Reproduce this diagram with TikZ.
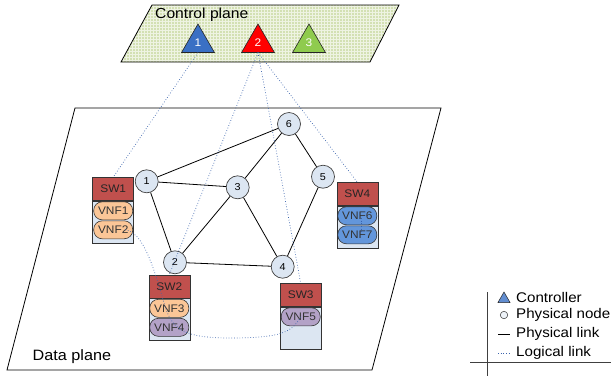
\documentclass[tikz,border=0pt]{standalone}
\usepackage{fontspec}
\setmainfont[FakeStretch=1.08]{Liberation Sans}
\usetikzlibrary{shapes.geometric}

\definecolor{cpfill}{HTML}{D3E0B3}
\definecolor{cpgrid}{HTML}{EEF3E2}
\definecolor{nodefill}{HTML}{DCE6F2}
\definecolor{swred}{HTML}{C0504D}
\definecolor{vnfcont}{HTML}{DCE6F2}
\definecolor{vnforange}{HTML}{FBC697}
\definecolor{vnfpurple}{HTML}{B3A2C7}
\definecolor{vnfblue}{HTML}{6396DB}
\definecolor{loglink}{HTML}{3B64AD}
\definecolor{ctrlblue}{HTML}{3A70C4}
\definecolor{ctrlred}{HTML}{FF0000}
\definecolor{ctrlgreen}{HTML}{8FCB4E}

\tikzset{
  plane/.style={draw=black, line width=0.8pt},
  ctrl/.style={regular polygon, regular polygon sides=3, minimum size=38pt,
    inner sep=0pt, outer sep=0pt, draw=black!85, line width=0.6pt,
    text=white, font=\fontsize{11}{11}\selectfont},
  pnode/.style={circle, draw=black!75, fill=nodefill, minimum size=23pt,
    inner sep=0pt, line width=0.7pt, font=\fontsize{10}{10}\selectfont},
  swbox/.style={draw=black!80, fill=swred, minimum width=41pt, minimum height=23pt,
    inner sep=0pt, line width=0.6pt, text=black!85, font=\fontsize{11}{11}\selectfont},
  vnfbox/.style={draw=black!80, fill=vnfcont, minimum width=41pt, minimum height=42pt,
    inner sep=0pt, line width=0.6pt},
  vnf/.style={draw=black!80, rounded corners=8.5pt, minimum width=39pt, minimum height=18pt,
    inner sep=0pt, line width=0.6pt, text=black!80, font=\fontsize{11}{11}\selectfont},
  plink/.style={draw=black, line width=0.8pt},
  llink/.style={draw=loglink, line width=0.7pt, dotted},
  legtext/.style={anchor=west, inner sep=0pt, font=\fontsize{14}{14}\selectfont},
  title/.style={anchor=west, inner sep=0pt, font=\fontsize{14.5}{14.5}\selectfont}
}

\begin{document}
\begin{tikzpicture}[x=1pt, y=-1pt]
\useasboundingbox (0,0) rectangle (611,376);

% control plane with its fine grid
\fill[cpfill] (152,5) -- (399,5) -- (370,62) -- (121,62) -- cycle;
\begin{scope}
  \clip (152,5) -- (399,5) -- (370,62) -- (121,62) -- cycle;
  \draw[cpgrid, line width=0.6pt, step=3pt] (118,2) grid (402,65);
\end{scope}
\draw[plane] (152,5) -- (399,5) -- (370,62) -- (121,62) -- cycle;
\node[title] (cptitle) at (155,15) {Control plane};

% controllers
\node[ctrl, fill=ctrlblue] (t1) at (198,43) {1};
\node[ctrl, fill=ctrlred] (t2) at (258,43) {2};
\node[ctrl, fill=ctrlgreen] (t3) at (309,43) {3};

% data plane
\draw[plane] (75,108) -- (441,108) -- (372,370) -- (7,370) -- cycle;
\node[title, font=\fontsize{15}{15}\selectfont] (dptitle) at (32.5,357) {Data plane};

% physical nodes
\node[pnode] (n1) at (146.7,181.3) {1};
\node[pnode] (n2) at (175,262.3) {2};
\node[pnode] (n3) at (237.7,187.3) {3};
\node[pnode] (n4) at (282.7,266.7) {4};
\node[pnode] (n5) at (323,176.7) {5};
\node[pnode] (n6) at (289,124) {6};

% physical links
\draw[plink] (n1) -- (n6);
\draw[plink] (n1) -- (n3);
\draw[plink] (n1) -- (n2);
\draw[plink] (n3) -- (n6);
\draw[plink] (n3) -- (n2);
\draw[plink] (n3) -- (n4);
\draw[plink] (n6) -- (n5);
\draw[plink] (n5) -- (n4);
\draw[plink] (n2) -- (n4);

% switches with their VNFs
\node[swbox] (sw1) at (113.2,189) {SW1};
\node[vnfbox, anchor=north] (box1) at (sw1.south) {};
\node[vnf, fill=vnforange] (vnf1) at ([yshift=-10pt]box1.north) {VNF1};
\node[vnf, fill=vnforange] (vnf2) at ([yshift=-29pt]box1.north) {VNF2};

\node[swbox] (sw2) at (169.3,286.5) {SW2};
\node[vnfbox, anchor=north] (box2) at (sw2.south) {};
\node[vnf, fill=vnforange] (vnf3) at ([yshift=-10pt]box2.north) {VNF3};
\node[vnf, fill=vnfpurple] (vnf4) at ([yshift=-29pt]box2.north) {VNF4};

\node[swbox] (sw3) at (300.7,295) {SW3};
\node[vnfbox, anchor=north] (box3) at (sw3.south) {};
\node[vnf, fill=vnfpurple] (vnf5) at ([yshift=-10pt]box3.north) {VNF5};

\node[swbox] (sw4) at (357.3,194) {SW4};
\node[vnfbox, anchor=north] (box4) at (sw4.south) {};
\node[vnf, fill=vnfblue] (vnf6) at ([yshift=-10pt]box4.north) {VNF6};
\node[vnf, fill=vnfblue] (vnf7) at ([yshift=-29pt]box4.north) {VNF7};

% logical links
\draw[llink] (t1.south) -- (sw1.north);
\draw[llink] (t2.south) -- (sw2.north);
\draw[llink] (t2.south) -- (sw3.north);
\draw[llink] (t2.south) -- (sw4.north);
\draw[llink] ([xshift=12pt]vnf2.center) .. controls (142,232) and (152,262) .. (162,296)
  .. controls (170,325) and (175,338) .. (230,338)
  .. controls (282,338) and (292,332) .. (vnf5.center);
\draw[llink] ([xshift=4pt,yshift=-2pt]vnf6.center) -- ([xshift=4pt,yshift=2pt]vnf7.center);

% legend
\draw[draw=black!75, line width=0.8pt] (487,292) -- (487,376);
\draw[draw=black!75, line width=0.8pt] (470,362.5) -- (611,362.5);
\node[regular polygon, regular polygon sides=3, minimum size=14pt, inner sep=0pt,
  draw=black!85, fill=ctrlblue!80, line width=0.5pt] (lgtri) at (504,299) {};
\node[circle, minimum size=7.5pt, inner sep=0pt, draw=black!80, fill=nodefill!50,
  line width=0.5pt] (lgcirc) at (504,315) {};
\coordinate (lgpa) at (498,334);
\coordinate (lgpb) at (510,334);
\draw[plink] (lgpa) -- (lgpb);
\coordinate (lgla) at (498,353);
\coordinate (lglb) at (510,353);
\draw[llink] (lgla) -- (lglb);
\node[legtext] (lgt1) at (516,297) {Controller};
\node[legtext] (lgt2) at (516,315) {Physical node};
\node[legtext] (lgt3) at (516,334) {Physical link};
\node[legtext] (lgt4) at (516,352.5) {Logical link};
\end{tikzpicture}
\end{document}
